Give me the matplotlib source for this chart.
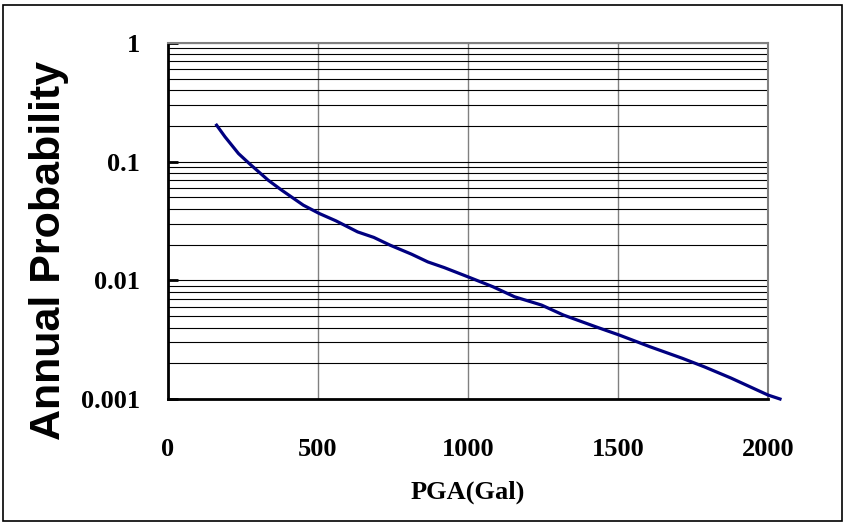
import matplotlib
matplotlib.use('Agg')
import matplotlib.pyplot as plt
from matplotlib.patches import Rectangle
from matplotlib.ticker import FixedLocator, NullFormatter

# curve
pga = [162, 190, 235, 271, 334, 379, 451, 504, 560, 632, 686, 740, 812, 866,
       921, 1000, 1083, 1155, 1245, 1318, 1426, 1504, 1606, 1715, 1787, 1877,
       2000, 2040]
prob = [0.203, 0.162, 0.117, 0.0964, 0.0698, 0.0575, 0.0430, 0.0366, 0.0317,
        0.0256, 0.0230, 0.0198, 0.0166, 0.0143, 0.0128, 0.0107, 0.00883,
        0.00727, 0.00619, 0.00510, 0.00406, 0.00346, 0.00276, 0.00220,
        0.00187, 0.00150, 0.00108, 0.00100]

x_ticks = [0, 500, 1000, 1500, 2000]
y_ticks = [0.001, 0.01, 0.1, 1]
y_labels = ['0.001', '0.01', '0.1', '1']

fig = plt.figure(figsize=(8.49, 5.23), dpi=100)
ax = fig.add_axes([168/849, 1-399/523, 600/849, 356/523])

ax.plot(pga, prob, color='#000080', lw=2.3, clip_on=False, zorder=5)
ax.set_yscale('log')
ax.set_xlim(0, 2000)
ax.set_ylim(0.001, 1)

minor = [m * 10.0**e for e in (-3, -2, -1) for m in range(2, 10)]
ax.yaxis.set_minor_locator(FixedLocator(minor))
ax.yaxis.set_minor_formatter(NullFormatter())
ax.set_yticks(y_ticks)
ax.set_yticklabels(y_labels)
ax.set_xticks(x_ticks)
ax.set_xticklabels([str(v) for v in x_ticks])

ax.grid(True, which='major', axis='x', color='#808080', lw=1.0)
ax.grid(True, which='both', axis='y', color='black', lw=0.8)

bold_serif = dict(family='Liberation Serif', weight='bold', size=19)
for lab in ax.get_xticklabels() + ax.get_yticklabels():
    lab.set_fontfamily('Liberation Serif')
    lab.set_fontweight('bold')
    lab.set_fontsize(19)
ax.tick_params(axis='x', length=0, pad=28)
ax.tick_params(axis='y', which='major', direction='in', length=7, width=2, pad=20)
ax.tick_params(axis='y', which='minor', length=0)

ax.set_xlabel('PGA(Gal)', fontdict=bold_serif, labelpad=14)
fig.text(49/849, 1-250/523, 'Annual Probability', family='Liberation Sans',
         weight='bold', size=31, rotation=90, ha='center', va='center')

ax.spines['left'].set_linewidth(2)
ax.spines['bottom'].set_linewidth(2)
ax.spines['top'].set_color('#808080')
ax.spines['right'].set_color('#808080')
ax.spines['top'].set_linewidth(1.5)
ax.spines['right'].set_linewidth(1.5)

fig.patches.append(Rectangle((3/849, 2/523), 839/849, 516/523,
                             transform=fig.transFigure, fill=False,
                             edgecolor='black', lw=1.2))

fig.savefig('out.png', dpi=100)
